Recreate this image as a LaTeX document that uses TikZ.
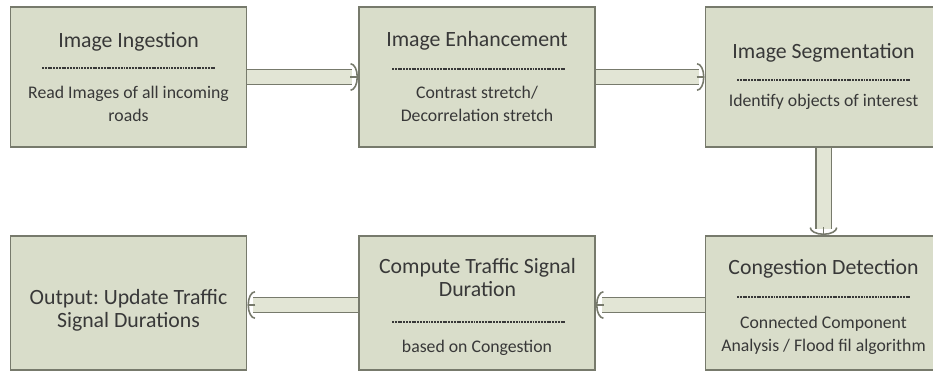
\documentclass[tikz,border=0pt]{standalone}
\usepackage{fontspec}
\setmainfont{Carlito}
\frenchspacing
\usetikzlibrary{arrows.meta,calc}

\definecolor{boxfill}{HTML}{D9DDCA}
\definecolor{boxline}{HTML}{777A6C}
\definecolor{pipefill}{HTML}{E2E5D5}
\definecolor{inkgrey}{HTML}{383838}

\tikzset{
  stage/.style={draw=boxline,fill=boxfill,line width=1.1pt,minimum width=4.72cm,minimum height=2.8cm,inner sep=0pt},
  lowstage/.style={stage,minimum height=2.68cm},
  heading/.style={anchor=base,text=inkgrey,font=\fontsize{12.4}{13.6}\selectfont,align=center,inner sep=0pt},
  detail/.style={anchor=base,text=inkgrey,font=\fontsize{10.1}{13.3}\selectfont,align=center,inner sep=0pt},
  splitline/.style={draw=inkgrey,line width=0.9pt,dash pattern=on 1.1pt off 0.5pt},
  pipe/.style={draw=boxline,line width=0.8pt,double=pipefill,double distance=0.28cm},
  pipehead/.style={draw=boxline,line width=0.9pt,-{Arc Barb[length=0.15cm,width=0.56cm]}},
}

\begin{document}
\begin{tikzpicture}[x=0.02cm,y=-0.02cm]
\clip (0,0) rectangle (933,374);
\fill[white] (0,0) rectangle (933,374);

% top row
\node[stage] (ing) at (128.5,77) {};
\node[stage] (enh) at (477,77) {};
\node[stage] (seg) at (823.5,77) {};
% bottom row
\node[lowstage] (out) at (128.5,303) {};
\node[lowstage] (comp) at (477,303) {};
\node[lowstage] (cong) at (823.5,303) {};

% texts (two-line nodes sit on their last baseline)
\node[heading] (ing-title) at (128.5,48) {Image Ingestion};
\draw[splitline] (42,68) -- (215,68);
\node[detail] (ing-text) at (128.5,122) {Read Images of all incoming\\roads};

\node[heading] (enh-title) at (477,47) {Image Enhancement};
\draw[splitline] (392,69) -- (565,69);
\node[detail] (enh-text) at (477,122) {Contrast stretch/\\Decorrelation stretch};

\node[heading] (seg-title) at (823.5,59) {Image Segmentation};
\draw[splitline] (737,80) -- (910,80);
\node[detail] (seg-text) at (823.5,107) {Identify objects of interest};

\node[heading] (out-title) at (128.5,328) {Output: Update Traffic\\Signal Durations};

\node[heading] (comp-title) at (477.5,297) {Compute Traffic Signal\\Duration};
\draw[splitline] (392,322) -- (565,322);
\node[detail] (comp-text) at (477,353) {based on Congestion};

\node[heading] (cong-title) at (823.5,275) {Congestion Detection};
\draw[splitline] (737,297) -- (910,297);
\node[detail] (cong-text) at (823.5,352) {Connected Component\\Analysis / Flood fil algorithm};

% block arrows: shaft, then open head at the target
\draw[pipe] (ing.east) -- ($(enh.west)+(-6,0)$);
\draw[pipehead] ($(enh.west)+(-8,0)$) -- (enh.west);
\draw[pipe] (enh.east) -- ($(seg.west)+(-6,0)$);
\draw[pipehead] ($(seg.west)+(-8,0)$) -- (seg.west);
\draw[pipe] (seg.south) -- ($(cong.north)+(0,-6)$);
\draw[pipehead] ($(cong.north)+(0,-8)$) -- (cong.north);
\draw[pipe] ($(cong.west)+(0,2)$) -- ($(comp.east)+(6,2)$);
\draw[pipehead] ($(comp.east)+(8,2)$) -- ($(comp.east)+(0,2)$);
\draw[pipe] ($(comp.west)+(0,2)$) -- ($(out.east)+(6,2)$);
\draw[pipehead] ($(out.east)+(8,2)$) -- ($(out.east)+(0,2)$);
\end{tikzpicture}
\end{document}
